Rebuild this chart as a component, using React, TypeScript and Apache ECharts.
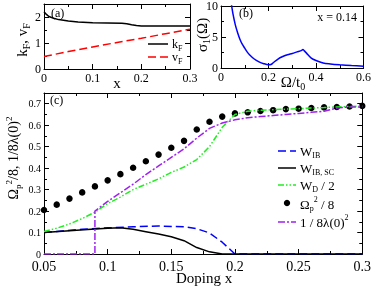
import React, { useEffect, useRef } from 'react';
import * as echarts from 'echarts';

// Panel (a): Fermi momentum and velocity vs doping
const kfX = [0, 0.005, 0.01, 0.02, 0.03, 0.05, 0.07, 0.1, 0.13, 0.16, 0.17, 0.18, 0.19, 0.2, 0.25, 0.3];
const kfY = [2.2, 2.1, 2.02, 1.95, 1.9, 1.85, 1.81, 1.78, 1.77, 1.76, 1.74, 1.7, 1.67, 1.65, 1.65, 1.65];
const vfX = [0, 0.05, 0.1, 0.15, 0.2, 0.25, 0.3];
const vfY = [0.48, 0.67, 0.85, 1.02, 1.18, 1.36, 1.53];

// Panel (b): optical conductivity at x = 0.14
const sigX = [0.035, 0.045, 0.05, 0.06, 0.07, 0.08, 0.09, 0.1, 0.11, 0.12, 0.14, 0.16, 0.18, 0.2, 0.21, 0.22, 0.24, 0.26, 0.28, 0.3, 0.32, 0.34, 0.345, 0.35, 0.36, 0.38, 0.4, 0.43, 0.46, 0.5, 0.55, 0.6];
const sigY = [12.5, 10, 8.8, 7.0, 5.7, 4.6, 3.8, 3.2, 2.6, 2.15, 1.45, 1.0, 0.7, 0.52, 0.55, 0.85, 1.45, 1.85, 2.15, 2.35, 2.6, 2.85, 3.0, 2.8, 2.4, 1.6, 1.2, 0.8, 0.65, 0.52, 0.4, 0.3];

// Panel (c): spectral weights vs doping
const docX = [0.05, 0.06, 0.07, 0.08, 0.09, 0.1, 0.11, 0.12, 0.13, 0.14, 0.15, 0.16, 0.17, 0.18, 0.19, 0.2, 0.21, 0.22, 0.23, 0.24, 0.25, 0.26, 0.27, 0.28, 0.29, 0.3];
const omegaP = [0.205, 0.23, 0.258, 0.287, 0.315, 0.343, 0.372, 0.402, 0.432, 0.463, 0.495, 0.527, 0.58, 0.616, 0.64, 0.655, 0.66, 0.666, 0.67, 0.675, 0.677, 0.68, 0.683, 0.685, 0.687, 0.69];
const wD2 = [0.105, 0.12, 0.14, 0.165, 0.195, 0.235, 0.265, 0.3, 0.325, 0.35, 0.38, 0.405, 0.44, 0.5, 0.59, 0.65, 0.665, 0.67, 0.672, 0.675, 0.677, 0.68, 0.682, 0.685, 0.687, 0.69];
const lamX = [0.05, 0.09, 0.09, 0.1, 0.11, 0.12, 0.13, 0.14, 0.15, 0.16, 0.17, 0.18, 0.19, 0.2, 0.21, 0.22, 0.23, 0.24, 0.25, 0.26, 0.27, 0.28, 0.29, 0.3];
const lamY = [0, 0, 0.2, 0.245, 0.285, 0.325, 0.37, 0.41, 0.45, 0.49, 0.54, 0.585, 0.61, 0.625, 0.635, 0.64, 0.645, 0.65, 0.655, 0.66, 0.665, 0.68, 0.685, 0.685];
const wibX = [0.05, 0.06, 0.08, 0.1, 0.12, 0.14, 0.16, 0.17, 0.18, 0.19, 0.2, 0.3];
const wibY = [0.1, 0.105, 0.115, 0.122, 0.127, 0.13, 0.127, 0.118, 0.098, 0.055, 0, 0];
const wscX = [0.05, 0.07, 0.09, 0.1, 0.11, 0.12, 0.13, 0.14, 0.15, 0.16, 0.17, 0.18, 0.19, 0.2, 0.3];
const wscY = [0.1, 0.108, 0.116, 0.12, 0.122, 0.115, 0.104, 0.093, 0.08, 0.062, 0.03, 0.01, 0.0, 0, 0];

const FONT = '"Liberation Serif", "Times New Roman", serif';

const zip = (xs: number[], ys: number[]) => xs.map((x, i) => [x, ys[i]]);

function axis(gridIndex: number, position: string, min: number, max: number, interval: number, labelSize: number, showLabel: boolean, showMax = true, margin = 3) {
  return {
    type: 'value',
    gridIndex,
    position,
    min,
    max,
    interval,
    axisLine: { show: true, onZero: false, lineStyle: { color: '#000', width: 1 } },
    axisTick: { show: true, inside: true, length: 5, lineStyle: { color: '#000', width: 1 } },
    minorTick: { show: true, splitNumber: 2, length: 3, lineStyle: { color: '#000', width: 1 } },
    splitLine: { show: false },
    minorSplitLine: { show: false },
    axisLabel: {
      show: showLabel,
      color: '#000',
      fontFamily: FONT,
      fontSize: labelSize,
      margin,
      showMaxLabel: showMax,
    },
  };
}

const richBase = (size: number) => ({
  m: { fontSize: size, fontFamily: FONT, color: '#000', lineHeight: size + 4 },
  s: { fontSize: Math.round(size * 0.65), fontFamily: FONT, color: '#000', lineHeight: Math.round(size * 0.65), verticalAlign: 'bottom' },
  u: { fontSize: Math.round(size * 0.65), fontFamily: FONT, color: '#000', lineHeight: Math.round(size * 0.65), verticalAlign: 'top' },
});

function txt(x: number, y: number, text: string, size: number, opts: any = {}) {
  return {
    type: 'text',
    x,
    y,
    rotation: opts.rotation || 0,
    style: {
      text,
      rich: richBase(size),
      fill: '#000',
      font: `${size}px ${FONT}`,
      align: opts.align || 'left',
      verticalAlign: opts.verticalAlign || 'middle',
    },
  };
}

function legLine(x1: number, x2: number, y: number, color: string, dash: number[] | null, width = 1.5) {
  return {
    type: 'line',
    shape: { x1, y1: y, x2, y2: y },
    style: { stroke: color, lineWidth: width, lineDash: dash || undefined },
  };
}

const BLUE = '#0000ff';
const RED = '#ff0000';
const GREEN = '#22ee22';
const PURPLE = '#a020f0';

export default function App() {
  const ref = useRef<HTMLDivElement>(null);
  useEffect(() => {
    const chart = echarts.init(ref.current!, null, { renderer: 'svg' });
    const option: any = {
      animation: false,
      grid: [
        { left: 44, top: 4, width: 146, height: 65 },
        { left: 221, top: 4, width: 144, height: 64 },
        { left: 44, top: 93, width: 321, height: 161 },
      ],
      xAxis: [
        axis(0, 'bottom', 0, 0.3, 0.1, 12, true),
        axis(0, 'top', 0, 0.3, 0.1, 12, false),
        axis(1, 'bottom', 0, 0.6, 0.2, 12, true),
        axis(1, 'top', 0, 0.6, 0.2, 12, false),
        axis(2, 'bottom', 0.05, 0.3, 0.05, 14, true, true, 5),
        axis(2, 'top', 0.05, 0.3, 0.05, 14, false),
      ],
      yAxis: [
        axis(0, 'left', 0, 2.5, 1, 12, true, false),
        axis(0, 'right', 0, 2.5, 1, 12, false),
        axis(1, 'left', 0, 10, 5, 12, true),
        axis(1, 'right', 0, 10, 5, 12, false),
        axis(2, 'left', 0, 0.75, 0.1, 10, true, false),
        axis(2, 'right', 0, 0.75, 0.1, 10, false),
      ],
      series: [
        { type: 'line', xAxisIndex: 0, yAxisIndex: 0, data: zip(kfX, kfY), showSymbol: false, symbol: 'none', lineStyle: { color: '#000', width: 1.5 } },
        { type: 'line', xAxisIndex: 0, yAxisIndex: 0, data: zip(vfX, vfY), showSymbol: false, symbol: 'none', lineStyle: { color: RED, width: 1.5, type: [8, 4] } },
        { type: 'line', xAxisIndex: 2, yAxisIndex: 2, data: zip(sigX, sigY), showSymbol: false, symbol: 'none', smooth: 0.3, lineStyle: { color: BLUE, width: 1.5 } },
        { type: 'line', xAxisIndex: 4, yAxisIndex: 4, data: zip(wibX, wibY), showSymbol: false, symbol: 'none', lineStyle: { color: BLUE, width: 1.5, type: [8, 4] } },
        { type: 'line', xAxisIndex: 4, yAxisIndex: 4, data: zip(wscX, wscY), showSymbol: false, symbol: 'none', lineStyle: { color: '#000', width: 1.5 } },
        { type: 'line', xAxisIndex: 4, yAxisIndex: 4, data: zip(docX, wD2), showSymbol: false, symbol: 'none', lineStyle: { color: GREEN, width: 1.5, type: [6, 2, 1.5, 2, 1.5, 2] } },
        { type: 'line', xAxisIndex: 4, yAxisIndex: 4, data: zip(lamX, lamY), showSymbol: false, symbol: 'none', lineStyle: { color: PURPLE, width: 1.5, type: [7, 2, 2, 2] } },
        { type: 'scatter', xAxisIndex: 4, yAxisIndex: 4, data: zip(docX, omegaP), symbol: 'circle', symbolSize: 6.5, itemStyle: { color: '#000', opacity: 1 } },
      ],
      graphic: [
        // panel (a)
        txt(51, 13, '(a)', 12),
        txt(22, 40, '{m|k}{s|F}{m|, v}{s|F}', 15, { rotation: Math.PI / 2, align: 'center' }),
        txt(117, 83, 'x', 15, { align: 'center' }),
        legLine(148, 168, 44, '#000', null),
        txt(172, 44, '{m|k}{s|F}', 12),
        legLine(148, 168, 57, RED, [8, 4]),
        txt(172, 57, '{m|v}{s|F}', 12),
        // panel (b)
        txt(239, 13, '(b)', 12),
        txt(357, 17, 'x = 0.14', 12, { align: 'right' }),
        txt(202, 35, '{m|σ}{s|1}{m|(Ω)}', 15, { rotation: Math.PI / 2, align: 'center' }),
        txt(293, 82, '{m|Ω/t}{s|0}', 15, { align: 'center' }),
        // panel (c)
        txt(50, 100, '(c)', 12),
        txt(13, 158, '{m|Ω}{s|p}{u|2}{m|/8, 1/8λ(0)}{u|2}', 14, { rotation: Math.PI / 2, align: 'center' }),
        txt(204, 278, 'Doping x', 15, { align: 'center' }),
        legLine(278, 296, 151, BLUE, [8, 4]),
        txt(300, 151, '{m|W}{s|IB}', 13),
        legLine(278, 296, 168, '#000', null),
        txt(300, 168, '{m|W}{s|IB, SC}', 13),
        legLine(278, 296, 185, GREEN, [6, 2, 1.5, 2, 1.5, 2]),
        txt(300, 185, '{m|W}{s|D}{m| / 2}', 13),
        { type: 'circle', shape: { cx: 287, cy: 203, r: 3.2 }, style: { fill: '#000' } },
        txt(300, 204, '{m|Ω}{s|p}{u|2}{m| / 8}', 13),
        legLine(278, 296, 222, PURPLE, [7, 2, 2, 2]),
        txt(300, 222, '{m|1 / 8λ(0)}{u|2}', 13),
      ],
    };
    chart.setOption(option);
    return () => chart.dispose();
  }, []);
  return <div ref={ref} style={{ position: 'fixed', left: 0, top: 0, width: 374, height: 286 }} />;
}
